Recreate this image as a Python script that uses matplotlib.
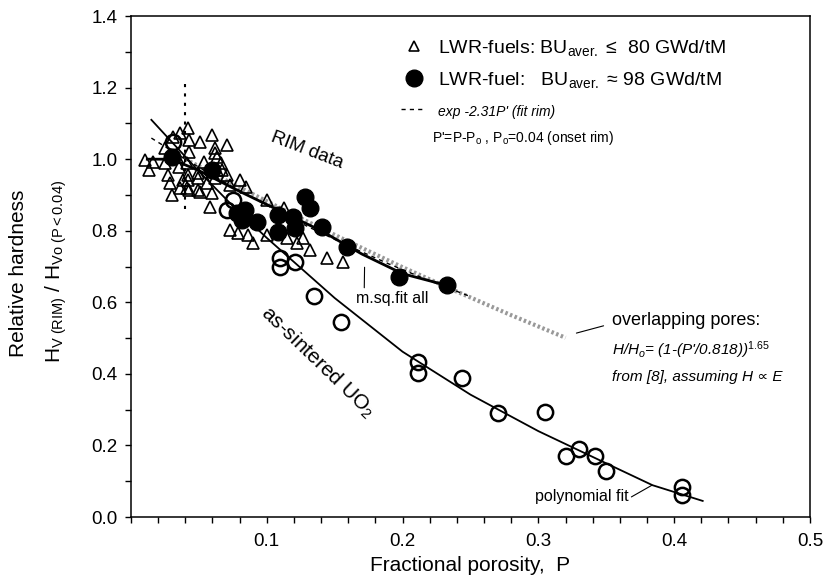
import matplotlib
matplotlib.use('Agg')
import matplotlib.pyplot as plt
from matplotlib.lines import Line2D
from matplotlib.ticker import MultipleLocator

plt.rcParams['font.family'] = ['Liberation Sans', 'DejaVu Sans']
plt.rcParams['mathtext.fontset'] = 'custom'
plt.rcParams['mathtext.rm'] = 'Liberation Sans'
plt.rcParams['mathtext.it'] = 'Liberation Sans:italic'

# LWR fuels, BU <= 80 GWd/tM (open triangles)
tri_p = [0.010, 0.016, 0.013, 0.025, 0.025, 0.027, 0.029, 0.030, 0.031, 0.036,
         0.034, 0.036, 0.042, 0.043, 0.043, 0.041, 0.042, 0.041, 0.049, 0.051,
         0.049, 0.054, 0.056, 0.060, 0.062, 0.063, 0.066, 0.062, 0.060, 0.058,
         0.071, 0.067, 0.073, 0.073, 0.080, 0.085, 0.079, 0.086, 0.090, 0.035,
         0.038, 0.042, 0.043, 0.049, 0.051, 0.062, 0.063, 0.071, 0.100, 0.113,
         0.100, 0.115, 0.122, 0.127, 0.132, 0.144, 0.156]
tri_h = [0.997, 0.992, 0.969, 1.031, 0.989, 0.955, 0.933, 0.899, 1.061, 1.073,
         1.006, 0.919, 1.087, 1.053, 1.020, 0.989, 0.941, 0.919, 0.913, 1.047,
         0.961, 0.992, 0.933, 1.067, 1.031, 1.006, 0.989, 0.947, 0.905, 0.866,
         1.039, 0.969, 0.927, 0.802, 0.941, 0.922, 0.793, 0.788, 0.765, 0.978,
         0.941, 0.955, 0.913, 0.947, 0.908, 1.017, 0.969, 0.955, 0.885, 0.863,
         0.788, 0.779, 0.765, 0.779, 0.746, 0.723, 0.712]

# LWR fuel, BU ~ 98 GWd/tM (filled circles)
rim_p = [0.030, 0.060, 0.078, 0.084, 0.082, 0.093, 0.108, 0.108, 0.119, 0.121,
         0.128, 0.132, 0.141, 0.159, 0.197, 0.233]
rim_h = [1.006, 0.969, 0.849, 0.858, 0.830, 0.824, 0.844, 0.796, 0.838, 0.807,
         0.894, 0.863, 0.810, 0.754, 0.670, 0.648]

# as-sintered UO2 (open circles)
uo2_p = [0.031, 0.075, 0.071, 0.110, 0.110, 0.121, 0.135, 0.155, 0.211, 0.211,
         0.244, 0.270, 0.305, 0.320, 0.330, 0.342, 0.350, 0.406, 0.406]
uo2_h = [1.047, 0.885, 0.858, 0.723, 0.698, 0.712, 0.617, 0.545, 0.433, 0.402,
         0.388, 0.291, 0.293, 0.170, 0.190, 0.170, 0.128, 0.084, 0.061]

# curves
poly_p = [0.015, 0.05, 0.075, 0.10, 0.15, 0.20, 0.25, 0.30, 0.35, 0.384, 0.421]
poly_h = [1.110, 0.966, 0.869, 0.780, 0.612, 0.462, 0.342, 0.240, 0.150, 0.089, 0.045]

msq_p = [0.012, 0.030, 0.050, 0.080, 0.110, 0.140, 0.170, 0.200, 0.233]
msq_h = [1.000, 1.000, 0.968, 0.910, 0.855, 0.800, 0.735, 0.680, 0.647]

exp_p = [0.015, 0.04, 0.07, 0.10, 0.13, 0.16, 0.19, 0.22, 0.25]
exp_h = [1.059, 1.000, 0.933, 0.871, 0.812, 0.758, 0.707, 0.660, 0.616]

ovl_p = [0.04, 0.08, 0.12, 0.16, 0.20, 0.24, 0.28, 0.32]
ovl_h = [1.000, 0.921, 0.844, 0.770, 0.698, 0.630, 0.564, 0.501]

onset_p = [0.04, 0.04]
onset_h = [0.86, 1.215]

fig = plt.figure(figsize=(8.26, 5.88), dpi=100)
ax = fig.add_axes([0.1586, 0.1207, 0.822, 0.852])

ax.plot(ovl_p, ovl_h, color='0.6', lw=3, ls=(0, (0.6, 0.6)), zorder=1)
ax.plot(exp_p, exp_h, color='black', lw=1, ls=(0, (3, 3)), zorder=2)
ax.plot(poly_p, poly_h, color='black', lw=1.3, zorder=2)
ax.plot(msq_p, msq_h, color='black', lw=2, zorder=2)
ax.plot(onset_p, onset_h, color='black', lw=1.5, ls=(0, (1.5, 3)), zorder=2)

ax.plot(tri_p, tri_h, ls='none', marker='^', ms=9, mfc='none', mec='black', mew=1.2, zorder=3)
ax.plot(uo2_p, uo2_h, ls='none', marker='o', ms=11, mfc='none', mec='black', mew=1.8, zorder=3)
ax.plot(rim_p, rim_h, ls='none', marker='o', ms=12, mfc='black', mec='black', zorder=4)

ax.set_xlim(0, 0.5)
ax.set_ylim(0, 1.4)
ax.set_xticks([0, 0.1, 0.2, 0.3, 0.4, 0.5])
ax.set_xticklabels(['', '0.1', '0.2', '0.3', '0.4', '0.5'])
ax.set_yticks([0, 0.2, 0.4, 0.6, 0.8, 1.0, 1.2, 1.4])
ax.set_yticklabels(['0.0', '0.2', '0.4', '0.6', '0.8', '1.0', '1.2', '1.4'])
ax.xaxis.set_minor_locator(MultipleLocator(0.02))
ax.yaxis.set_minor_locator(MultipleLocator(0.1))
ax.tick_params(which='both', direction='out', length=4.5, width=1, labelsize=13.5)
ax.tick_params(axis='x', pad=7)
ax.tick_params(axis='y', pad=5)
for s in ax.spines.values():
    s.set_linewidth(1.1)

ax.set_xlabel('Fractional porosity,  P', fontsize=15, labelpad=4)
fig.text(19 / 826, 1 - 273 / 588, 'Relative hardness', rotation=90, fontsize=15,
         ha='center', va='center')
fig.text(56 / 826, 1 - 271 / 588, r'H$_{\rm V\ (RIM)}$ / H$_{\rm Vo\ (P<0.04)}$',
         rotation=90, fontsize=15, ha='center', va='center')

handles = [Line2D([], [], ls='none', marker='^', ms=7, mfc='none', mec='black', mew=1.2),
           Line2D([], [], ls='none', marker='o', ms=12, mfc='black', mec='black'),
           Line2D([], [], color='black', lw=1, ls=(0, (3, 3)))]
labels = ['LWR-fuels: BU$_{\\rm aver.}$ ≤  80 GWd/tM',
          'LWR-fuel:   BU$_{\\rm aver.}$ ≈ 98 GWd/tM',
          "exp -2.31P' (fit rim)"]
leg = ax.legend(handles, labels, loc='upper left', bbox_to_anchor=(401 / 826, 1 - 38 / 588),
                bbox_transform=fig.transFigure, frameon=False, fontsize=14,
                borderpad=0, borderaxespad=0, handlelength=1.3, handletextpad=0.6,
                labelspacing=0.62)
leg.get_texts()[2].set_fontsize(10)
leg.get_texts()[2].set_fontstyle('italic')
ax.text(0.2217, 1.059, "P'=P-P$_{\\rm o}$ , P$_{\\rm o}$=0.04 (onset rim)", fontsize=10, va='center')

ax.text(0.1296, 1.025, 'RIM data', fontsize=13.5, rotation=-21, ha='center', va='center')
ax.text(0.1377, 0.433, 'as-sintered UO$_2$', fontsize=15, rotation=-44, ha='center', va='center')

ax.annotate('m.sq.fit all', xy=(0.172, 0.698), xytext=(0.192, 0.612), fontsize=11.5,
            ha='center', va='center',
            arrowprops=dict(arrowstyle='-', color='black', lw=0.8, shrinkA=0, shrinkB=0,
                            relpos=(0.12, 1.0)))
ax.annotate('overlapping pores:', xy=(0.328, 0.514), xytext=(0.354, 0.550), fontsize=13,
            ha='left', va='center',
            arrowprops=dict(arrowstyle='-', color='black', lw=0.8, shrinkA=4, shrinkB=0,
                            relpos=(0.0, 0.3)))
ax.text(0.354, 0.466, "H/H$_{\\mathit{o}}$= (1-(P'/0.818))$^{\\mathit{1.65}}$", fontsize=11,
        fontstyle='italic', ha='left', va='center')
ax.text(0.354, 0.391, 'from [8], assuming H ∝ E', fontsize=11, fontstyle='italic',
        ha='left', va='center')
ax.annotate('polynomial fit', xy=(0.3837, 0.089), xytext=(0.2975, 0.056), fontsize=11.5,
            ha='left', va='center',
            arrowprops=dict(arrowstyle='-', color='black', lw=0.8, shrinkA=0, shrinkB=0,
                            relpos=(1.0, 0.4)))

fig.savefig('out.png', dpi=100)
